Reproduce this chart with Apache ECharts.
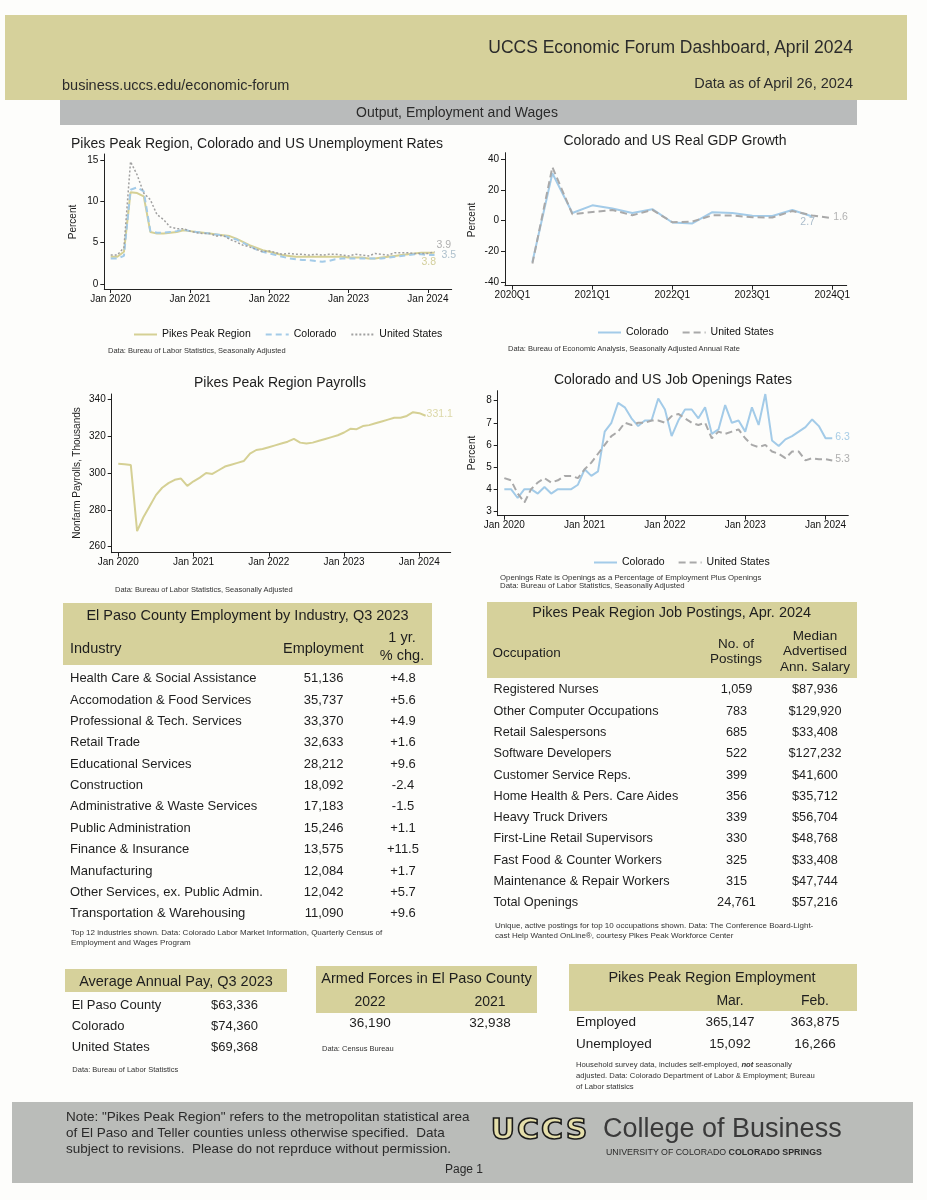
<!DOCTYPE html>
<html><head><meta charset="utf-8">
<script src="https://cdn.jsdelivr.net/npm/echarts@6/dist/echarts.min.js"></script>
<style>
html,body{margin:0;padding:0;background:#fff;}
#page{position:relative;width:927px;height:1200px;overflow:hidden;font-family:"Liberation Sans",Arial,sans-serif;color:#1e1e1e;background:#fdfdfb;}
.band{position:absolute;z-index:1;}
.t{position:absolute;white-space:nowrap;line-height:1;z-index:3;}
#chart{position:absolute;left:0;top:0;width:927px;height:1200px;z-index:2;}
</style></head><body>
<div id="page"><div id="chart"></div></div>
<script>
// ---------- DATA ----------
const monthTicks = ['Jan 2020','Jan 2021','Jan 2022','Jan 2023','Jan 2024'];
const quarterTicks = ['2020Q1','2021Q1','2022Q1','2023Q1','2024Q1'];

// Unemployment rates, monthly Jan 2020 - Feb 2024
const unempPPR = [3.3,3.3,3.9,11.1,11.0,10.6,6.3,6.1,6.1,6.2,6.3,6.5,
  6.4,6.3,6.2,6.1,6.0,5.9,5.8,5.5,5.1,4.7,4.4,4.1,
  3.9,3.7,3.5,3.4,3.3,3.3,3.3,3.3,3.3,3.3,3.3,3.3,
  3.2,3.2,3.2,3.1,3.1,3.2,3.3,3.4,3.5,3.6,3.7,3.8,
  3.8,3.8];
const unempCO = [3.1,3.1,3.4,11.4,11.7,11.2,6.4,6.2,6.2,6.3,6.4,6.6,
  6.4,6.3,6.2,6.1,6.0,5.9,5.6,5.4,5.0,4.6,4.2,3.9,
  3.7,3.5,3.3,3.1,3.0,2.9,2.9,2.8,2.7,2.8,3.0,3.1,
  3.1,3.1,3.1,3.1,3.1,3.1,3.2,3.3,3.4,3.5,3.6,3.6,
  3.5,3.5];
const unempUS = [3.5,3.5,4.4,14.8,13.2,11.0,10.2,8.4,7.8,6.9,6.7,6.7,
  6.4,6.2,6.1,6.1,5.8,5.9,5.4,5.1,4.7,4.5,4.2,3.9,
  4.0,3.8,3.6,3.7,3.6,3.6,3.5,3.6,3.5,3.6,3.6,3.5,
  3.4,3.6,3.5,3.4,3.7,3.6,3.5,3.8,3.8,3.8,3.7,3.7,
  3.7,3.9];

// Real GDP growth, quarterly from 2020Q2
const gdpStartQuarter = 1;
const gdpCO = [-27,31,5,10,8,5,7.5,-1.2,-1.8,5.5,5,3.2,3,7,2.7];
const gdpUS = [-28,35,4.2,5.6,7,3.5,7,-1,-0.6,3.5,3.4,2.2,2.1,6.3,3.4,1.6];

// Pikes Peak Region nonfarm payrolls (thousands), Jan 2020 - Feb 2024
const payrolls = [305.0,304.8,304.3,268.5,276.0,282.0,288.0,292.0,294.5,296.3,297.0,293.0,
  295.5,297.5,300.0,299.5,301.5,303.5,304.5,305.5,306.5,310.5,312.5,313.0,
  314.0,315.0,316.0,317.0,318.5,316.5,316.0,316.5,317.5,318.5,319.5,320.5,
  322.0,324.0,323.8,325.5,326.0,327.0,328.0,329.0,330.0,330.0,331.0,333.0,
  332.5,331.1];

// Job openings rates, Jan 2020 - Feb 2024
const openCO = [4.0,4.0,3.6,4.0,4.0,3.8,4.1,3.8,4.0,4.0,4.0,4.2,
  4.9,4.6,4.8,6.6,7.0,7.9,7.7,7.2,6.85,7.1,7.1,8.1,
  7.6,6.4,7.1,7.6,7.6,7.2,7.7,6.5,6.7,7.8,7.0,7.1,
  6.6,7.7,6.9,8.3,6.2,5.95,6.25,6.4,6.6,6.8,7.15,6.85,
  6.3,6.3];
const openUS = [4.5,4.4,3.8,3.4,4.0,4.3,4.5,4.3,4.4,4.6,4.6,4.5,
  4.9,5.2,5.6,6.0,6.4,6.6,7.0,6.9,7.0,7.0,7.1,7.1,
  7.0,7.3,7.4,7.2,7.0,6.9,7.0,6.3,6.6,6.5,6.6,6.7,
  6.3,6.0,5.9,6.0,5.7,5.6,5.4,5.7,5.7,5.3,5.4,5.35,
  5.35,5.3];

// Tables
const industries = ['Health Care & Social Assistance','Accomodation & Food Services','Professional & Tech. Services','Retail Trade','Educational Services','Construction','Administrative & Waste Services','Public Administration','Finance & Insurance','Manufacturing','Other Services, ex. Public Admin.','Transportation & Warehousing'];
const industryEmployment = ['51,136','35,737','33,370','32,633','28,212','18,092','17,183','15,246','13,575','12,084','12,042','11,090'];
const industryChange = ['+4.8','+5.6','+4.9','+1.6','+9.6','-2.4','-1.5','+1.1','+11.5','+1.7','+5.7','+9.6'];

const occupations = ['Registered Nurses','Other Computer Occupations','Retail Salespersons','Software Developers','Customer Service Reps.','Home Health & Pers. Care Aides','Heavy Truck Drivers','First-Line Retail Supervisors','Fast Food & Counter Workers','Maintenance & Repair Workers','Total Openings'];
const postingCounts = ['1,059','783','685','522','399','356','339','330','325','315','24,761'];
const postingSalaries = ['$87,936','$129,920','$33,408','$127,232','$41,600','$35,712','$56,704','$48,768','$33,408','$47,744','$57,216'];

const payAreas = ['El Paso County','Colorado','United States'];
const payValues = ['$63,336','$74,360','$69,368'];
const armedYears = ['2022','2021'];
const armedValues = ['36,190','32,938'];
const empMonths = ['Mar.','Feb.'];
const empRows = ['Employed','Unemployed'];
const empValues = [['365,147','363,875'],['15,092','16,266']];

// ---------- HTML LAYOUT ----------
const page = document.getElementById('page');
const KHAKI = '#d6d19b';
function band(x,y,w,h,c){const d=document.createElement('div');d.className='band';Object.assign(d.style,{left:x+'px',top:y+'px',width:w+'px',height:h+'px',background:c});page.appendChild(d);}
function T(s,x,y,size,align,opt){opt=opt||{};const d=document.createElement('div');d.className='t';
  if(opt.html)d.innerHTML=s;else d.textContent=s;
  d.style.left=x+'px';d.style.top=y+'px';d.style.fontSize=size+'px';
  const tx=align==='center'?'-50%':align==='right'?'-100%':'0';
  d.style.transform='translate('+tx+',-50%)';
  if(opt.color)d.style.color=opt.color;
  if(opt.weight)d.style.fontWeight=opt.weight;
  if(opt.css)Object.assign(d.style,opt.css);
  page.appendChild(d);return d;}

band(5,15,902,85,KHAKI);
band(60,100,797,25,'#b9bbbb');
band(63,603,369,62,KHAKI);
band(487,602,370,76,KHAKI);
band(65,969,222,23,KHAKI);
band(316,966,221,47,KHAKI);
band(569,964,288,47,KHAKI);
band(12,1102,901,81,'#babcb9');

T('UCCS Economic Forum Dashboard, April 2024',853,48,17.5,'right',{color:'#2b2b2b'});
T('business.uccs.edu/economic-forum',62,85,14.5,'left',{color:'#2b2b2b'});
T('Data as of April 26, 2024',853,83,14.5,'right',{color:'#2b2b2b'});
T('Output, Employment and Wages',457,112,14,'center',{color:'#2b2b2b'});

// chart titles & notes
T('Pikes Peak Region, Colorado and US Unemployment Rates',257,143,14,'center');
T('Colorado and US Real GDP Growth',675,140,14,'center');
T('Pikes Peak Region Payrolls',280,381.5,14,'center');
T('Colorado and US Job Openings Rates',673,378.5,14,'center');
function vname(s,x,y,size){const d=T(s,x,y,size,'left');d.style.transform='translate(-50%,-50%) rotate(-90deg)';}
vname('Percent',73.3,221.7,10);
vname('Percent',471.7,220,10);
vname('Nonfarm Payrolls, Thousands',76.7,473,10);
vname('Percent',471.7,453,10);
T('Data: Bureau of Labor Statistics, Seasonally Adjusted',108,351,7.5,'left',{color:'#333'});
T('Data: Bureau of Economic Analysis, Seasonally Adjusted Annual Rate',508,349,7.5,'left',{color:'#333'});
T('Data: Bureau of Labor Statistics, Seasonally Adjusted',115,590,7.5,'left',{color:'#333'});
T('Openings Rate is Openings as a Percentage of Employment Plus Openings',500,577.5,7.8,'left',{color:'#333'});
T('Data: Bureau of Labor Statistics, Seasonally Adjusted',500,586,7.8,'left',{color:'#333'});

// industry table
T('El Paso County Employment by Industry, Q3 2023',247.5,615,14.5,'center');
T('Industry',70,648,14.5,'left');
T('Employment',283,648,14.5,'left');
T('1 yr.',402,637,14.5,'center');
T('% chg.',402,655,14.5,'center');
industries.forEach((n,i)=>{const y=677.3+21.36*i;
  T(n,70,y,13,'left');T(industryEmployment[i],343.5,y,13,'right');T(industryChange[i],403,y,13,'center');});
T('Top 12 industries shown. Data: Colorado Labor Market Information, Quarterly Census of',71,933,8,'left',{color:'#333'});
T('Employment and Wages Program',71,943,8,'left',{color:'#333'});

// postings table
T('Pikes Peak Region Job Postings, Apr. 2024',671.7,611.7,14.5,'center');
T('Occupation',492.5,652.7,13.5,'left');
T('No. of',736,644,13.5,'center');
T('Postings',736,659,13.5,'center');
T('Median',815,635.7,13.5,'center');
T('Advertised',815,651,13.5,'center');
T('Ann. Salary',815,666.7,13.5,'center');
occupations.forEach((n,i)=>{const y=689.3+21.3*i;
  T(n,493.5,y,12.7,'left');T(postingCounts[i],736.5,y,12.7,'center');T(postingSalaries[i],815,y,12.7,'center');});
T('Unique, active postings for top 10 occupations shown. Data: The Conference Board-Light-',495,925.7,8,'left',{color:'#333'});
T('cast Help Wanted OnLine®, courtesy Pikes Peak Workforce Center',495,935.5,8,'left',{color:'#333'});

// average pay
T('Average Annual Pay, Q3 2023',176,980.7,14.5,'center');
payAreas.forEach((n,i)=>{const y=1004+21*i;T(n,71.7,y,13,'left');T(payValues[i],211,y,13,'left');});
T('Data: Bureau of Labor Statistics',72.3,1070,7.5,'left',{color:'#333'});

// armed forces
T('Armed Forces in El Paso County',426.5,978,14.5,'center');
[370,490].forEach((cx,i)=>{T(armedYears[i],cx,1001,14,'center');T(armedValues[i],cx,1023,13.5,'center');});
T('Data: Census Bureau',322,1049,7.5,'left',{color:'#333'});

// PPR employment
T('Pikes Peak Region Employment',712,977,14.5,'center');
[730,815].forEach((cx,i)=>T(empMonths[i],cx,1000,14,'center'));
empRows.forEach((n,r)=>{const y=1022+22*r;T(n,576,y,13.5,'left');
  [730,815].forEach((cx,i)=>T(empValues[r][i],cx,y,13.5,'center'));});
T('Household survey data, includes self-employed, <b><i>not</i></b> seasonally',576,1065,7.7,'left',{html:true,color:'#333'});
T('adjusted. Data: Colorado Department of Labor &amp; Employment; Bureau',576,1076,7.7,'left',{html:true,color:'#333'});
T('of Labor statisics',576,1087,7.7,'left',{color:'#333'});

// footer
T('Note: "Pikes Peak Region" refers to the metropolitan statistical area',66,1117,13.5,'left',{color:'#2a2a2a'});
T('of El Paso and Teller counties unless otherwise specified.&nbsp; Data',66,1133,13.5,'left',{html:true,color:'#2a2a2a'});
T('subject to revisions.&nbsp; Please do not reprduce without permission.',66,1149,13.5,'left',{html:true,color:'#2a2a2a'});
T('Page 1',464,1169,12,'center',{color:'#2a2a2a'});
T('UCCS',540,1129,30,'center',{weight:900,color:'#e4deaa',css:{webkitTextStroke:'1.6px #1a1a1a',letterSpacing:'2px',fontFamily:'"DejaVu Sans",sans-serif',transform:'translate(-50%,-50%) scaleY(0.95)'}});
T('College of Business',603,1128,27,'left',{color:'#3a3a3a'});
T('UNIVERSITY OF COLORADO <b>COLORADO SPRINGS</b>',606,1152,8.8,'left',{html:true,color:'#2a2a2a'});

// ---------- CHARTS ----------
const FONT='"Liberation Sans", Arial, sans-serif';
const C_KHAKI='#d5d094', C_BLUE='#a3cbe8', C_GRAY='#a9a9a9';
const idx = (arr,start)=>arr.map((v,i)=>[i+(start||0),v]);
function xAx(g,min,max,ticks,step){const vals=ticks.map((_,k)=>k*step);
  return {type:'value',gridIndex:g,min,max,
    axisLine:{show:true,onZero:false,lineStyle:{color:'#222',width:1}},
    axisTick:{show:true,length:4,customValues:vals,lineStyle:{color:'#222'}},
    axisLabel:{customValues:vals,formatter:v=>ticks[Math.round(v/step)],fontSize:10,color:'#111',margin:5,fontFamily:FONT},
    splitLine:{show:false}};}
function yAx(g,min,max,vals){
  return {type:'value',gridIndex:g,min,max,
    axisLine:{show:true,onZero:false,lineStyle:{color:'#222',width:1}},
    axisTick:{show:true,length:4,customValues:vals,lineStyle:{color:'#222'}},
    axisLabel:{customValues:vals,fontSize:10,color:'#111',margin:6,fontFamily:FONT},
    splitLine:{show:false}};}
function line(name,g,data,color,width,type,endColor,offset,dist){
  return {type:'line',name,xAxisIndex:g,yAxisIndex:g,data,symbol:'none',silent:true,
    lineStyle:{color,width,type},itemStyle:{color},emphasis:{disabled:true},
    endLabel:{show:true,formatter:p=>Number(p.value[1]).toFixed(1),color:endColor,fontSize:10.5,fontFamily:FONT,offset:offset,distance:dist}};}
const legendBase={orient:'horizontal',itemWidth:23,itemHeight:12,selectedMode:false,
  itemStyle:{opacity:0},
  textStyle:{fontSize:10.5,color:'#111',fontFamily:FONT},formatter:n=>n.split('|')[0]};

const option={
  animation:false,
  textStyle:{fontFamily:FONT},
  grid:[
    {left:104.3,top:154,width:347.4,height:135},
    {left:505,top:152.7,width:341.7,height:133},
    {left:111.7,top:394,width:339,height:158.7},
    {left:497.7,top:390.7,width:350.6,height:125}
  ],
  xAxis:[
    xAx(0,-0.97,51.6,monthTicks,12),
    xAx(1,-0.37,16.72,quarterTicks,4),
    xAx(2,-1.05,53.0,monthTicks,12),
    xAx(3,-0.99,51.4,monthTicks,12)
  ],
  yAxis:[
    yAx(0,-0.6,15.73,[0,5,10,15]),
    yAx(1,-42.5,44.4,[-40,-20,0,20,40]),
    yAx(2,256.74,342.9,[260,280,300,320,340]),
    yAx(3,2.8,8.45,[3,4,5,6,7,8])
  ],
  legend:[
    Object.assign({},legendBase,{left:128,top:324,itemGap:14,data:['Pikes Peak Region|u','Colorado|u','United States|u']}),
    Object.assign({},legendBase,{left:592,top:322,itemGap:13,data:['Colorado|g','United States|g']}),
    Object.assign({},legendBase,{left:588,top:552,itemGap:13,data:['Colorado|o','United States|o']})
  ],
  series:[
    line('Pikes Peak Region|u',0,idx(unempPPR),C_KHAKI,2,'solid','#d3cf9c',[-14,9],1),
    line('Colorado|u',0,idx(unempCO),C_BLUE,2,[6,4],'#aec0cc',[5,0],2),
    line('United States|u',0,idx(unempUS),'#a0a0a0',1.5,[2,2],'#b0b0b0',[0,-7],2),
    line('Colorado|g',1,idx(gdpCO,gdpStartQuarter),C_BLUE,2,'solid','#aabccb',[-13,6],1),
    line('United States|g',1,idx(gdpUS,gdpStartQuarter),C_GRAY,2,[7,4],'#b3b3b3',[0,-1],1),
    line('Pikes Peak Payrolls|p',2,idx(payrolls),C_KHAKI,2,'solid','#dcd8a8',[0,-2],1),
    line('Colorado|o',3,idx(openCO),C_BLUE,2,'solid','#a8cde6',[0,-1],3),
    line('United States|o',3,idx(openUS),C_GRAY,2,[7,4],'#b0b0b0',[0,-1],3)
  ]
};
const chart=echarts.init(document.getElementById('chart'),null,{renderer:'canvas'});
chart.setOption(option);
</script>
</body></html>
